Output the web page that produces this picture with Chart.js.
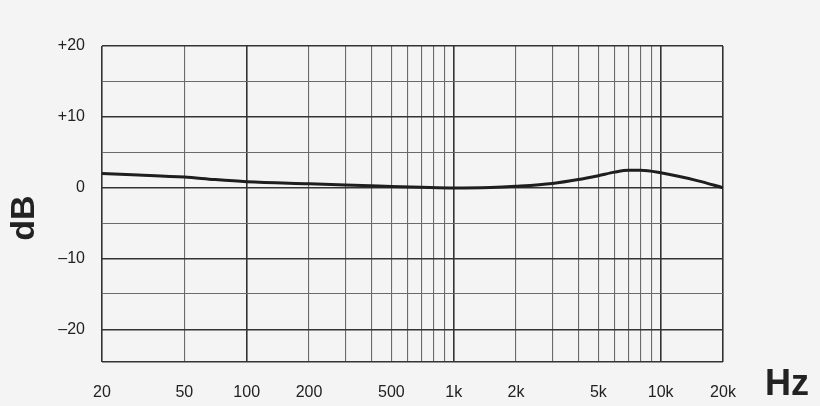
<!DOCTYPE html>
<html>
<head>
<meta charset="utf-8">
<script src="https://cdn.jsdelivr.net/npm/chart.js@4/dist/chart.umd.min.js"></script>
<style>
  html, body { margin: 0; padding: 0; background: #f4f4f4; }
  #wrap { width: 820px; height: 406px; }
</style>
</head>
<body>
<div id="wrap"><canvas id="myCanvas" width="820" height="406"></canvas></div>
<script>
// frequency response
var freqs = [20, 30, 50, 70, 100, 200, 300, 500, 700, 1000, 1500, 2000, 3000, 4000, 5000, 6000, 7000, 8000, 10000, 15000, 20000];
var levels = [2.0, 1.8, 1.5, 1.15, 0.85, 0.55, 0.38, 0.18, 0.05, -0.05, 0.02, 0.2, 0.6, 1.15, 1.7, 2.2, 2.45, 2.45, 2.1, 1.0, 0.0];

var gridFreqs = [20, 50, 100, 200, 300, 400, 500, 600, 700, 800, 900, 1000,
  2000, 3000, 4000, 5000, 6000, 7000, 8000, 9000, 10000, 20000];
var labelFreqs = {20: '20', 50: '50', 100: '100', 200: '200', 500: '500',
  1000: '1k', 2000: '2k', 5000: '5k', 10000: '10k', 20000: '20k'};
var majorFreqs = [20, 100, 1000, 10000, 20000];
var yLabels = {20: '+20', 10: '+10', 0: '0', '-10': '–10', '-20': '–20'};

var unitLabels = {
  id: 'unitLabels',
  afterDraw: function(chart) {
    var c = chart.ctx;
    c.save();
    c.fillStyle = '#222';
    c.font = 'bold 36px "Liberation Sans", Arial, sans-serif';
    c.textAlign = 'center';
    c.textBaseline = 'middle';
    c.fillText('Hz', 787, 385);
    c.translate(25, 218);
    c.rotate(-Math.PI / 2);
    c.font = 'bold 34px "Liberation Sans", Arial, sans-serif';
    c.fillText('dB', 0, 0);
    c.restore();
  }
};

var points = freqs.map(function(f, i) { return {x: f, y: levels[i]}; });

var chart = new Chart(document.getElementById('myCanvas'), {
  type: 'line',
  data: {
    datasets: [{
      data: points,
      borderColor: '#1e1e1e',
      borderWidth: 3,
      pointRadius: 0,
      fill: false,
      cubicInterpolationMode: 'monotone'
    }]
  },
  options: {
    responsive: false,
    animation: false,
    layout: { padding: { top: 46, right: 97, bottom: 0, left: 0 } },
    plugins: { legend: { display: false }, tooltip: { enabled: false } },
    scales: {
      x: {
        type: 'logarithmic',
        min: 20,
        max: 20000,
        afterBuildTicks: function(axis) {
          axis.ticks = gridFreqs.map(function(v) { return {value: v}; });
        },
        afterFit: function(axis) { axis.height = 44; },
        ticks: {
          autoSkip: false,
          maxRotation: 0,
          padding: 21,
          color: '#222',
          font: { family: '"Liberation Sans", Arial, sans-serif', size: 16 },
          callback: function(v) { return labelFreqs[v] || ''; }
        },
        grid: {
          drawTicks: false,
          color: function(ctx) {
            return majorFreqs.indexOf(ctx.tick && ctx.tick.value) >= 0 ? '#333' : '#6a6a6a';
          },
          lineWidth: function(ctx) {
            return majorFreqs.indexOf(ctx.tick && ctx.tick.value) >= 0 ? 1.6 : 1.1;
          }
        },
        border: { display: false }
      },
      y: {
        min: -24.6,
        max: 20,
        afterFit: function(axis) { axis.width = 102; },
        ticks: {
          stepSize: 5,
          padding: 17,
          color: '#222',
          font: { family: '"Liberation Sans", Arial, sans-serif', size: 16 },
          callback: function(v) { return yLabels[v] !== undefined ? yLabels[v] : ''; }
        },
        grid: {
          drawTicks: false,
          color: function(ctx) {
            var v = ctx.tick && ctx.tick.value;
            return (v % 10 === 0 || v === -24.6) ? '#333' : '#6a6a6a';
          },
          lineWidth: function(ctx) {
            var v = ctx.tick && ctx.tick.value;
            return (v % 10 === 0 || v === -24.6) ? 1.5 : 1.1;
          }
        },
        border: { display: false }
      }
    }
  },
  plugins: [unitLabels]
});
</script>
</body>
</html>
